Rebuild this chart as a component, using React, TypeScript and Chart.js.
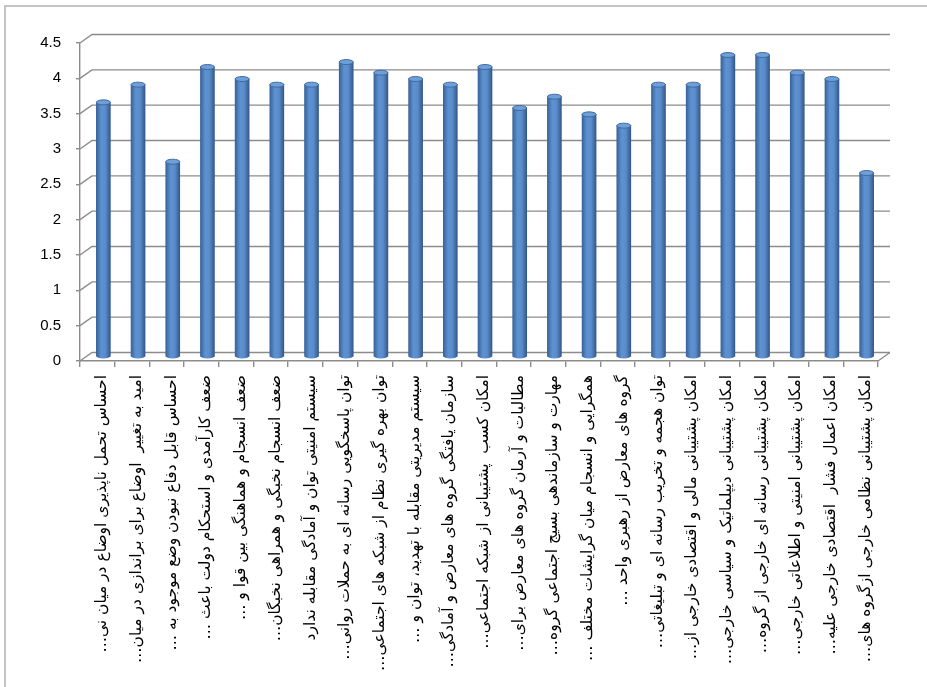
import React, { useEffect, useRef } from "react";
import { Chart, registerables } from "chart.js";

Chart.register(...registerables);

const categories: string[] = [
  "احساس تحمل ناپذیری اوضاع در میان نی…",
  "امید به تغییر  اوضاع برای براندازی در میان…",
  "احساس قابل دفاع نبودن وضع موجود به …",
  "ضعف کارآمدی و استحکام دولت باعث …",
  "ضعف انسجام و هماهنگی بین قوا و …",
  "ضعف انسجام نخبگی و همراهی نخبگان…",
  "سیستم امنیتی توان و آمادگی مقابله ندارد",
  "توان پاسخگویی رسانه ای به حملات روانی…",
  "توان بهره گیری نظام از شبکه های اجتماعی…",
  "سیستم مدیریتی مقابله با تهدید، توان و …",
  "سازمان یافتگی گروه های معارض و آمادگی…",
  "امکان کسب  پشتیبانی از شبکه اجتماعی…",
  "مطالبات و آرمان گروه های معارض برای…",
  "مهارت و سازماندهی بسیج اجتماعی گروه…",
  "همگرایی و انسجام میان گرایشات مختلف …",
  "گروه های معارض از رهبری واحد …",
  "توان هجمه و تخریب رسانه ای و تبلیغاتی…",
  "امکان پشتیبانی مالی و اقتصادی خارجی از…",
  "امکان پشتیبانی دیپلماتیک و سیاسی خارجی…",
  "امکان پشتیبانی رسانه ای خارجی از گروه…",
  "امکان پشتیبانی امنیتی و اطلاعاتی خارجی…",
  "امکان اعمال فشار  اقتصادی خارجی علیه…",
  "امکان پشتیبانی نظامی خارجی ازگروه های…",
];

const values: number[] = [
  3.6, 3.85, 2.76, 4.1, 3.93, 3.85, 3.85, 4.17, 4.02, 3.93, 3.85, 4.1,
  3.52, 3.68, 3.43, 3.27, 3.85, 3.85, 4.27, 4.27, 4.02, 3.93, 2.6,
];

const yMin = 0;
const yMax = 4.5;
const yStep = 0.5;

const DX = 12;
const DY = 8.5;

function barGradient(ctx: CanvasRenderingContext2D, x: number, w: number) {
  const g = ctx.createLinearGradient(x - w / 2, 0, x + w / 2, 0);
  g.addColorStop(0, "#3a6399");
  g.addColorStop(0.35, "#5d92d2");
  g.addColorStop(0.65, "#5a8ccb");
  g.addColorStop(1, "#34598a");
  return g;
}

const wallPlugin = {
  id: "wall3d",
  beforeDatasetsDraw(chart: any) {
    const { ctx, chartArea, scales } = chart;
    const { left, right, bottom } = chartArea;
    const y = scales.y;
    ctx.save();
    ctx.strokeStyle = "#8c8c8c";
    ctx.lineWidth = 1.4;
    for (const t of y.ticks) {
      const py = y.getPixelForValue(t.value);
      ctx.beginPath();
      ctx.moveTo(left, py);
      ctx.lineTo(left + DX, py - DY);
      ctx.lineTo(right + DX, py - DY);
      ctx.stroke();
    }
    ctx.beginPath();
    ctx.moveTo(right, bottom);
    ctx.lineTo(right + DX, bottom - DY);
    ctx.stroke();
    ctx.restore();
    ctx.save();
    ctx.translate(DX / 2, -DY / 2);
  },
  afterDatasetsDraw(chart: any) {
    const { ctx } = chart;
    const meta = chart.getDatasetMeta(0);
    for (const el of meta.data) {
      const w = el.width;
      if (!Number.isFinite(el.x) || !Number.isFinite(w) || !Number.isFinite(el.y)) continue;
      ctx.beginPath();
      ctx.ellipse(el.x, el.base, w / 2, 2.5, 0, 0, Math.PI);
      ctx.fillStyle = barGradient(ctx, el.x, w);
      ctx.fill();
      ctx.beginPath();
      ctx.ellipse(el.x, el.y, w / 2, 2.5, 0, 0, Math.PI * 2);
      ctx.fillStyle = "#6f9fd8";
      ctx.fill();
      ctx.lineWidth = 1;
      ctx.strokeStyle = "#3f6aa0";
      ctx.stroke();
    }
    ctx.restore();
  },
};

export default function App() {
  const ref = useRef<HTMLCanvasElement | null>(null);

  useEffect(() => {
    document.body.style.margin = "0";
    if (!ref.current) return;
    const chart = new Chart(ref.current, {
      type: "bar",
      data: {
        labels: categories.map((c) => c + "\u200F"),
        datasets: [
          {
            data: values,
            barThickness: 14,
            clip: false as any,
            borderWidth: 0,
            backgroundColor: (c: any) => {
              const ch = c.chart;
              const xs = ch.scales && ch.scales.x;
              if (!xs || c.dataIndex === undefined) return "#4f81bd";
              const x = xs.getPixelForValue(c.dataIndex);
              if (!Number.isFinite(x)) return "#4f81bd";
              return barGradient(ch.ctx, x, 14);
            },
          },
        ],
      },
      options: {
        animation: false,
        responsive: true,
        maintainAspectRatio: false,
        layout: { padding: { left: 0, top: 43, right: 49, bottom: 0 } },
        plugins: { legend: { display: false }, tooltip: { enabled: false } },
        scales: {
          x: {
            afterFit: (s: any) => {
              s.height = 326;
            },
            grid: {
              drawOnChartArea: false,
              drawTicks: true,
              tickLength: 6,
              color: "#8c8c8c",
              lineWidth: 1.4,
            },
            border: { display: true, color: "#8c8c8c", width: 1.4 },
            ticks: {
              autoSkip: false,
              minRotation: 90,
              maxRotation: 90,
              padding: 8,
              labelOffset: 5,
              color: "#000",
              font: { family: "'DejaVu Sans'", size: 15.5 },
            },
          },
          y: {
            min: yMin,
            max: yMax,
            afterFit: (s: any) => {
              s.width = 80;
            },
            grid: {
              drawOnChartArea: false,
              drawTicks: true,
              tickLength: 4,
              color: "#8c8c8c",
              lineWidth: 1.4,
            },
            border: { display: true, color: "#8c8c8c", width: 1.4 },
            ticks: {
              stepSize: yStep,
              padding: 15,
              color: "#000",
              font: { family: "'Liberation Sans'", size: 15 },
              callback: (v: any) => String(Number(v)),
            },
          },
        },
      },
      plugins: [wallPlugin],
    });
    return () => chart.destroy();
  }, []);

  return (
    <div style={{ position: "fixed", left: 0, top: 0, width: 927, height: 687, background: "#fff" }}>
      <div
        style={{
          position: "absolute",
          left: 4,
          top: 5,
          width: 930,
          height: 700,
          borderLeft: "2px solid #c4c4c4",
          borderTop: "2px solid #c4c4c4",
        }}
      />
      <div style={{ position: "absolute", left: 0, top: 0, width: 927, height: 687 }}>
        <canvas ref={ref} />
      </div>
    </div>
  );
}
